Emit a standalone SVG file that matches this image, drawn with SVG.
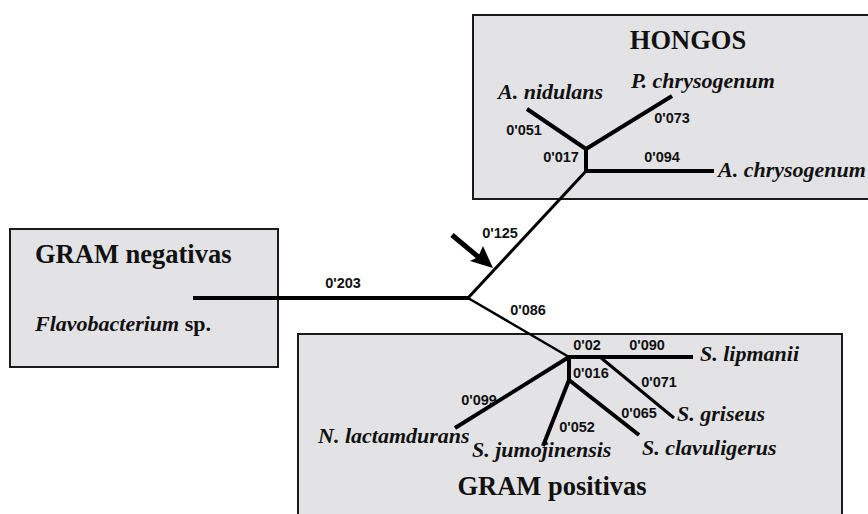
<svg xmlns="http://www.w3.org/2000/svg" width="868" height="514" viewBox="0 0 868 514">
<style>
.box{fill:#e3e3e5;stroke:#1a1a1a;stroke-width:2}
.br{stroke:#000;fill:none;stroke-linecap:butt}
.num{font-family:"Liberation Sans",Arial,sans-serif;font-weight:bold;font-size:14.5px;fill:#111}
.sp{font-family:"Liberation Serif","DejaVu Serif",serif;font-weight:bold;font-style:italic;font-size:22px;fill:#111}
.ttl{font-family:"Liberation Serif","DejaVu Serif",serif;font-weight:bold;font-size:26.5px;fill:#111}
</style>
<rect width="868" height="514" fill="#fff"/>
<g id="hongos">
<rect class="box" x="473" y="15" width="400" height="184"/>
<text class="ttl" x="688" y="49" text-anchor="middle">HONGOS</text>
<text class="sp" x="498" y="99">A. nidulans</text>
<text class="sp" x="631" y="88">P. chrysogenum</text>
<text class="sp" x="718" y="177">A. chrysogenum</text>
</g>
<g id="gram-negativas">
<rect class="box" x="10" y="229" width="268" height="138"/>
<text class="ttl" x="35" y="263">GRAM negativas</text>
<text class="sp" x="35" y="331">Flavobacterium<tspan font-style="normal"> sp.</tspan></text>
</g>
<g id="gram-positivas">
<rect class="box" x="298" y="334" width="544" height="190"/>
<text class="ttl" x="552" y="495" text-anchor="middle">GRAM positivas</text>
<text class="sp" x="700" y="361">S. lipmanii</text>
<text class="sp" x="677" y="421">S. griseus</text>
<text class="sp" x="642" y="455">S. clavuligerus</text>
<text class="sp" x="318" y="443">N. lactamdurans</text>
<text class="sp" x="472" y="457">S. jumojinensis</text>
</g>
<g id="connectors">
<line class="br" x1="193" y1="298" x2="469" y2="298" stroke-width="4"/>
<line class="br" x1="468" y1="298" x2="587" y2="170" stroke-width="3"/>
<line class="br" x1="468" y1="298" x2="569" y2="357" stroke-width="2.5"/>
<line class="br" x1="586" y1="172" x2="586" y2="147" stroke-width="4"/>
<line class="br" x1="586" y1="149" x2="527" y2="109" stroke-width="4"/>
<line class="br" x1="586" y1="149" x2="672" y2="96" stroke-width="4"/>
<line class="br" x1="584" y1="171" x2="714" y2="171" stroke-width="4"/>
<line class="br" x1="567" y1="357" x2="693" y2="357" stroke-width="4"/>
<line class="br" x1="600" y1="357" x2="674" y2="418" stroke-width="3"/>
<line class="br" x1="569" y1="356" x2="569" y2="381" stroke-width="4"/>
<line class="br" x1="569" y1="357" x2="455" y2="428" stroke-width="4"/>
<line class="br" x1="569" y1="380" x2="543" y2="446" stroke-width="4"/>
<line class="br" x1="569" y1="380" x2="639" y2="435" stroke-width="4"/>
<line class="br" x1="452" y1="235" x2="482" y2="260" stroke-width="5"/>
<polygon points="493,268 470,261 478,257 483,246" fill="#000"/>
</g>
<g id="labels">
<text class="num" x="524" y="135" text-anchor="middle">0'051</text>
<text class="num" x="672" y="123" text-anchor="middle">0'073</text>
<text class="num" x="561" y="162" text-anchor="middle">0'017</text>
<text class="num" x="662" y="162" text-anchor="middle">0'094</text>
<text class="num" x="500" y="238" text-anchor="middle">0'125</text>
<text class="num" x="343" y="288" text-anchor="middle">0'203</text>
<text class="num" x="528" y="315" text-anchor="middle">0'086</text>
<text class="num" x="587" y="350" text-anchor="middle">0'02</text>
<text class="num" x="647" y="350" text-anchor="middle">0'090</text>
<text class="num" x="573" y="378">0'016</text>
<text class="num" x="659" y="387" text-anchor="middle">0'071</text>
<text class="num" x="639" y="418" text-anchor="middle">0'065</text>
<text class="num" x="577" y="432" text-anchor="middle">0'052</text>
<text class="num" x="479" y="405" text-anchor="middle">0'099</text>
</g>
</svg>
